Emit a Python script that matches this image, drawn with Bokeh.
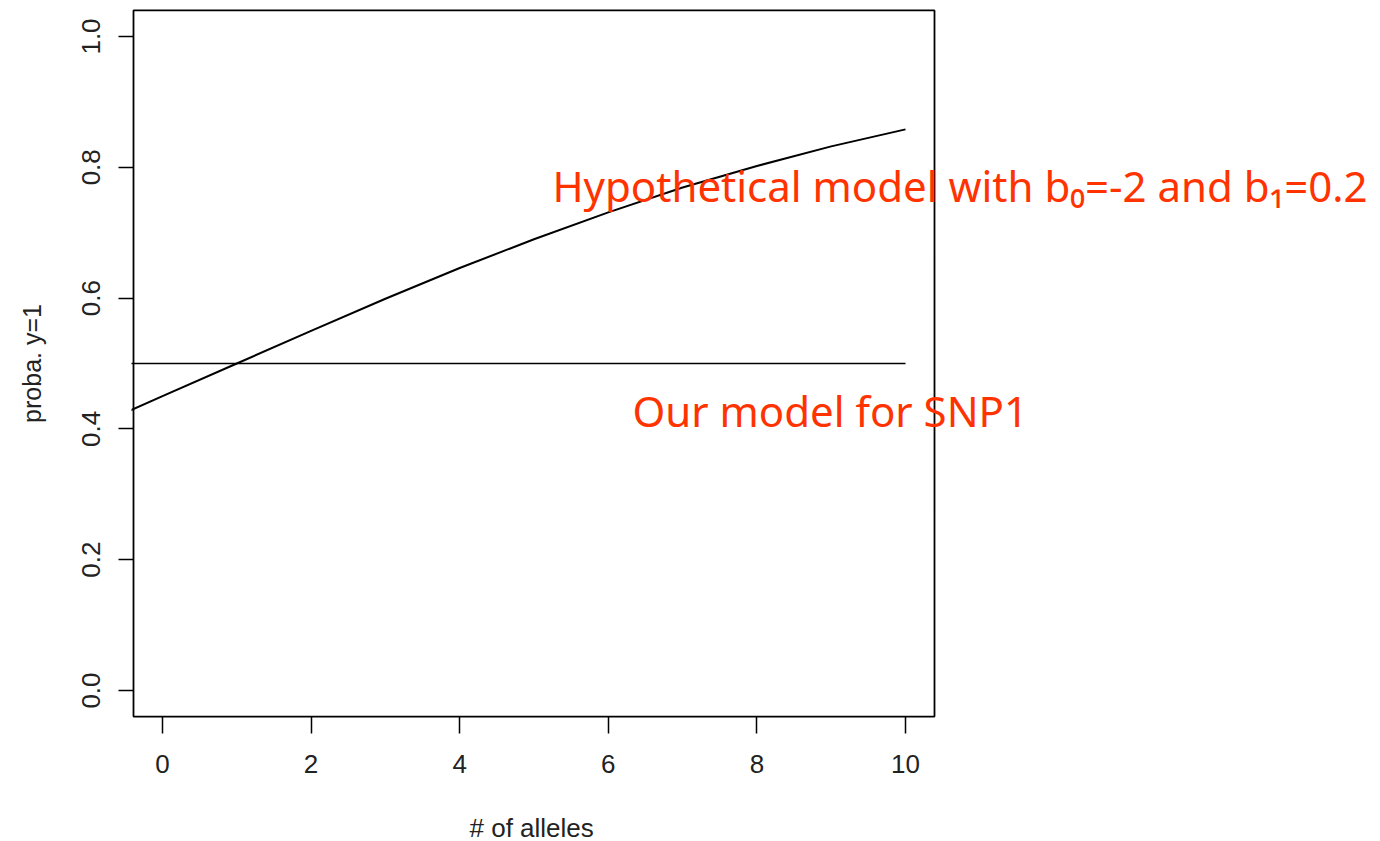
from bokeh.plotting import figure
from bokeh.models import Range1d, Label, FixedTicker, BoxAnnotation, Title, CustomJSTickFormatter
from bokeh.embed import file_html
from bokeh.resources import INLINE

# data
alleles = [-0.5, 0, 1, 2, 3, 4, 5, 6, 7, 8, 9, 10]
proba_hypo = [0.425, 0.450, 0.500, 0.550, 0.599, 0.646, 0.690, 0.731, 0.769, 0.802, 0.832, 0.858]
ours_x = [-0.5, 10]
ours_y = [0.5, 0.5]
x_ticks = [0, 2, 4, 6, 8, 10]
y_ticks = [0.0, 0.2, 0.4, 0.6, 0.8, 1.0]
x_label = "# of alleles"
y_label = "proba. y=1"
label_hypo = "Hypothetical model with b\u2080=-2 and b\u2081=0.2"
label_ours = "Our model for SNP1"

# plotting region (box) limits
box_x = (-0.3903, 10.3903)
box_y = (-0.0398, 1.0398)

p = figure(frame_width=1249, frame_height=710,
           min_border_left=131, min_border_right=0,
           min_border_top=8, min_border_bottom=123,
           x_range=Range1d(-0.4172, 16.393), y_range=Range1d(-0.0428, 1.0428),
           output_backend="svg", toolbar_location=None,
           y_axis_label=y_label)

p.grid.visible = False
p.outline_line_color = None
p.background_fill_color = "white"
p.border_fill_color = "white"

p.add_layout(BoxAnnotation(left=box_x[0], right=box_x[1], bottom=box_y[0], top=box_y[1],
                           fill_color=None, fill_alpha=0, line_color="black", line_alpha=1.0,
                           line_width=1.8, level="underlay"))

for ax in (p.xaxis[0], p.yaxis[0]):
    ax.axis_line_color = None
    ax.major_tick_line_color = "black"
    ax.major_tick_line_width = 1.5
    ax.major_tick_in = 2
    ax.minor_tick_line_color = None
    ax.major_label_text_font = "Liberation Sans"
    ax.major_label_text_font_size = "26px"
    ax.major_label_text_color = "#222222"
    ax.axis_label_text_font = "Liberation Sans"
    ax.axis_label_text_font_size = "25px"
    ax.axis_label_text_font_style = "normal"
    ax.axis_label_text_color = "#222222"

p.xaxis.major_tick_out = 15
p.yaxis.major_tick_out = 13
p.xaxis.ticker = FixedTicker(ticks=x_ticks)
p.yaxis.ticker = FixedTicker(ticks=y_ticks)
p.yaxis.formatter = CustomJSTickFormatter(code="return tick.toFixed(1);")
p.yaxis.major_label_orientation = "vertical"
p.xaxis.major_label_standoff = 21
p.yaxis.major_label_standoff = 18
p.yaxis.axis_label_standoff = 34

p.add_layout(Title(text=x_label, align="left", offset=338, standoff=70,
                   text_font="Liberation Sans", text_font_size="26px",
                   text_font_style="normal", text_color="#222222"), "below")

p.line(alleles, proba_hypo, line_color="black", line_width=2)
p.line(ours_x, ours_y, line_color="black", line_width=1.5)

red = "#ff3300"
p.add_layout(Label(x=5.249, y=0.7721, text=label_hypo, text_color=red,
                   text_font="Noto Sans", text_font_size="42px",
                   text_baseline="alphabetic"))
p.add_layout(Label(x=6.326, y=0.4281, text=label_ours, text_color=red,
                   text_font="Noto Sans", text_font_size="42px",
                   text_baseline="alphabetic"))

open("out.html", "w").write(file_html(p, INLINE))
